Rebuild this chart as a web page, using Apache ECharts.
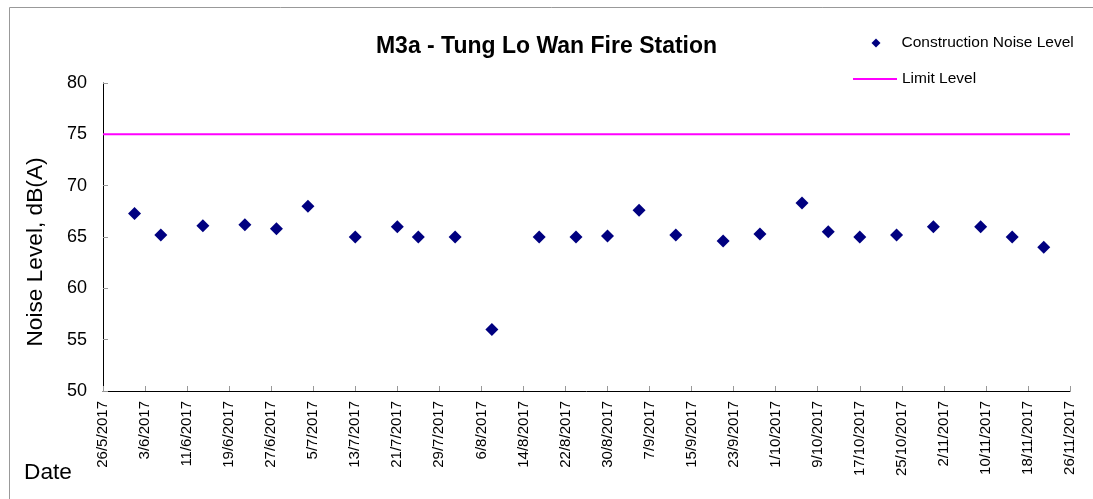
<!DOCTYPE html>
<html>
<head>
<meta charset="utf-8">
<script src="https://cdn.jsdelivr.net/npm/echarts@6/dist/echarts.min.js"></script>
<style>html,body{margin:0;padding:0;background:#fff}#c{width:1093px;height:499px}</style>
</head>
<body>
<div id="c"></div>
<script>
const titleText = 'M3a - Tung Lo Wan Fire Station';
const seriesNames = ['Construction Noise Level', 'Limit Level'];
const dates = ['2017-06-01','2017-06-06','2017-06-14','2017-06-22','2017-06-28','2017-07-04','2017-07-13','2017-07-21','2017-07-25','2017-08-01','2017-08-08','2017-08-17','2017-08-24','2017-08-30','2017-09-05','2017-09-12','2017-09-21','2017-09-28','2017-10-06','2017-10-11','2017-10-17','2017-10-24','2017-10-31','2017-11-09','2017-11-15','2017-11-21'];
const noise = [67.3,65.2,66.1,66.2,65.8,68.0,65.0,66.0,65.0,65.0,56.0,65.0,65.0,65.1,67.6,65.2,64.6,65.3,68.3,65.5,65.0,65.2,66.0,66.0,65.0,64.0];
const limitLevel = 75;
const xStart = '2017-05-26';
const xEnd = '2017-11-26';
const xStepDays = 8;
const yMin = 50, yMax = 80, yStep = 5;

const DAY = 86400000;
const toMs = s => { const p = s.split('-').map(Number); return Date.UTC(p[0], p[1]-1, p[2]); };
const xMin = toMs(xStart), xMax = toMs(xEnd);
const font = "'Liberation Sans', Arial, sans-serif";

const chart = echarts.init(document.getElementById('c'));
chart.setOption({
  animation: false,
  backgroundColor: '#fff',
  textStyle: { fontFamily: font },
  title: {
    text: titleText, left: 'center', top: 30,
    textStyle: { fontFamily: font, fontSize: 23, fontWeight: 'bold', color: '#000' }
  },
  legend: [
    { data: [{ name: seriesNames[0], icon: 'diamond' }], left: 866.5, top: 30, itemWidth: 9, itemHeight: 9, itemGap: 0,
      textStyle: { fontFamily: font, fontSize: 15.5, color: '#000', padding: [0, 0, 0, 16] }, selectedMode: false },
    { data: [{ name: seriesNames[1], icon: 'rect' }], left: 848, top: 66, itemWidth: 44, itemHeight: 2, itemGap: 0,
      textStyle: { fontFamily: font, fontSize: 15.5, color: '#000' }, selectedMode: false }
  ],
  grid: { left: 103, right: 23, top: 83, bottom: 108, containLabel: false },
  xAxis: {
    type: 'value', min: xMin, max: xMax, interval: xStepDays * DAY,
    axisLine: { lineStyle: { color: '#000', width: 1 } },
    axisTick: { inside: true, length: 5, lineStyle: { color: '#999' } },
    splitLine: { show: false },
    axisLabel: {
      rotate: 90, margin: 10, fontSize: 15, color: '#000', fontFamily: font,
      showMinLabel: true, showMaxLabel: true,
      formatter: v => { const d = new Date(v); return d.getUTCDate() + '/' + (d.getUTCMonth()+1) + '/' + d.getUTCFullYear(); }
    }
  },
  yAxis: {
    type: 'value', min: yMin, max: yMax, interval: yStep,
    name: 'Noise Level, dB(A)', nameLocation: 'middle', nameGap: 56,
    nameTextStyle: { fontFamily: font, fontSize: 22.7, color: '#000', padding: [0, 30, 0, 0] },
    axisLine: { show: true, lineStyle: { color: '#000', width: 1 } },
    axisTick: { show: true, inside: true, length: 5, lineStyle: { color: '#999' } },
    splitLine: { show: false },
    axisLabel: { fontSize: 18, color: '#000', margin: 16, fontFamily: font }
  },
  graphic: [
    { type: 'rect', left: 7, top: 5, shape: { x: 0, y: 0, width: 1100, height: 510 },
      style: { fill: 'none', stroke: '#999', lineWidth: 1 }, silent: true, z: -1 },
    { type: 'text', left: 24, top: 461, style: { text: 'Date', font: "22.7px 'Liberation Sans', Arial, sans-serif", fill: '#000' } }
  ],
  series: [
    { name: seriesNames[0], type: 'scatter', symbol: 'diamond', symbolSize: 13,
      itemStyle: { color: '#000080', opacity: 1 },
      data: dates.map((d, i) => [toMs(d), noise[i]]) },
    { name: seriesNames[1], type: 'line', symbol: 'none', showSymbol: false,
      lineStyle: { color: '#FF00FF', width: 2 }, itemStyle: { color: '#FF00FF' },
      data: [[xMin, limitLevel], [xMax, limitLevel]] }
  ]
});
</script>
</body>
</html>
